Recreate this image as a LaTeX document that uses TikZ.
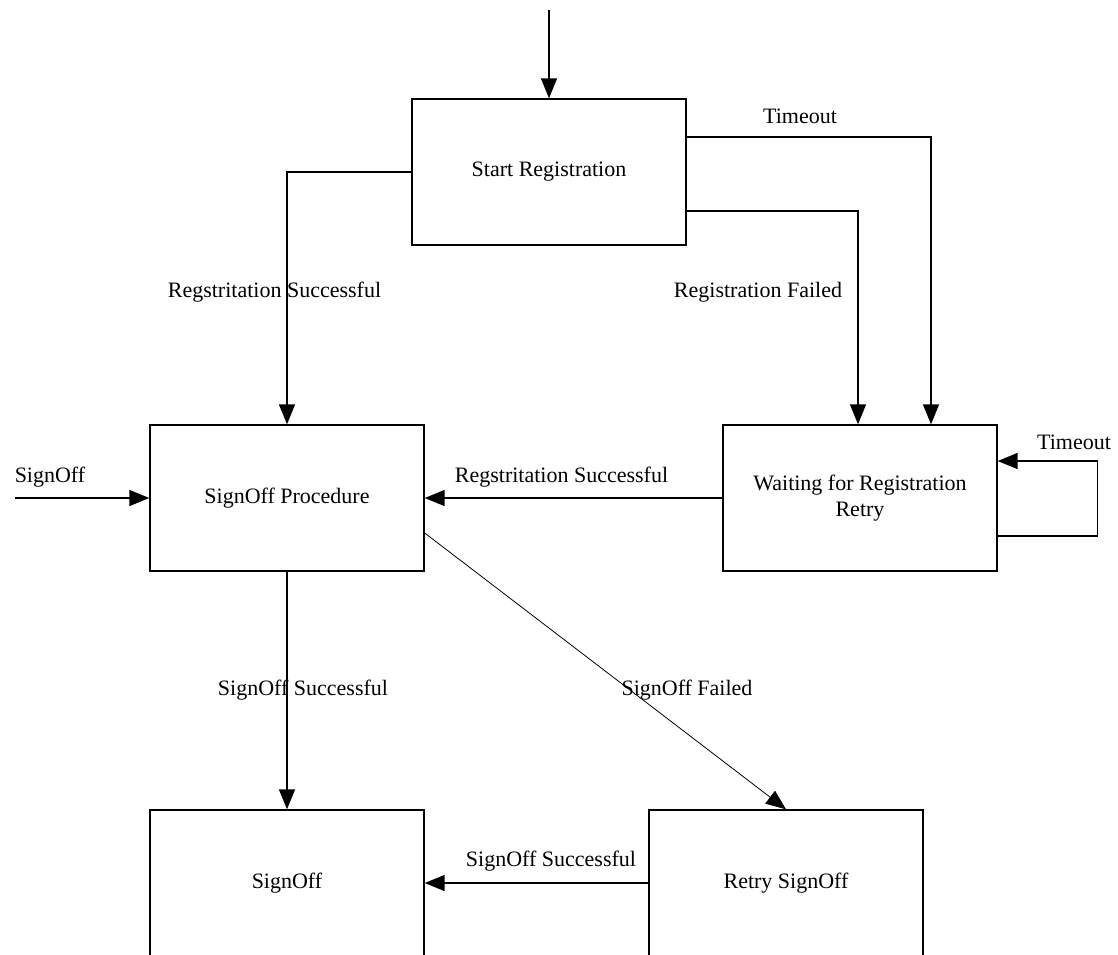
\documentclass[tikz,border=0pt]{standalone}
\usepackage{fontspec}
\setmainfont{Liberation Serif}
\usetikzlibrary{arrows.meta,calc}
\begin{document}
\begin{tikzpicture}[x=1pt,y=-1pt,
  state/.style={draw, line width=1.4pt, minimum width=274pt, minimum height=146pt, align=center, inner sep=0pt, font=\fontsize{22}{26}\selectfont},
  conn/.style={line width=1.5pt, -{Triangle[length=20pt,width=16pt]}},
  thinconn/.style={line width=0.8pt, -{Triangle[length=20pt,width=16pt]}},
  lbl/.style={font=\fontsize{22}{26}\selectfont, inner sep=0pt}]
\useasboundingbox (0,0) rectangle (1118,954);
\begin{scope}
\clip (0,0) rectangle (1118,954);
\node[state] (start) at (549,172) {Start Registration};
\node[state] (proc) at (287,498) {SignOff Procedure};
\node[state] (wait) at (860,498) {Waiting for Registration\\Retry};
\node[state] (soff) at (287,883) {SignOff};
\node[state] (retry) at (786,883) {Retry SignOff};

\coordinate (topin) at (549,10);
\coordinate (sin) at (15,498);

\draw[conn] (topin) -- (start.north);
\draw[conn] (start.west) -| (proc.north);
\draw[conn] ($(start.east)+(0,39)$) -| ($(wait.north)+(-2,0)$);
\draw[conn] ($(start.east)+(0,-35)$) -| ($(wait.north)+(71,0)$);
\draw[conn] (wait.west) -- (proc.east);
\draw[conn] (sin) -- (proc.west);
\draw[conn] ($(wait.east)+(0,38)$) -- ++(100,0) -- ++(0,-75) -- ($(wait.east)+(0,-37)$);
\draw[conn] (proc.south) -- (soff.north);
\draw[thinconn] ($(proc.east)+(0,35)$) -- (retry.north);
\draw[conn] (retry.west) -- (soff.east);

\node[lbl] (l1) at (800,116) {Timeout};
\node[lbl] (l2) at (274.5,292) {Regstritation Successful};
\node[lbl] (l3) at (758,292) {Registration Failed};
\node[lbl] (l4) at (561.5,477) {Regstritation Successful};
\node[lbl] (l5) at (50,477) {SignOff};
\node[lbl] (l6) at (1074,442) {Timeout};
\node[lbl] (l7) at (303,690) {SignOff Successful};
\node[lbl] (l8) at (687,690) {SignOff Failed};
\node[lbl] (l9) at (551,861) {SignOff Successful};
\end{scope}
\end{tikzpicture}
\end{document}
